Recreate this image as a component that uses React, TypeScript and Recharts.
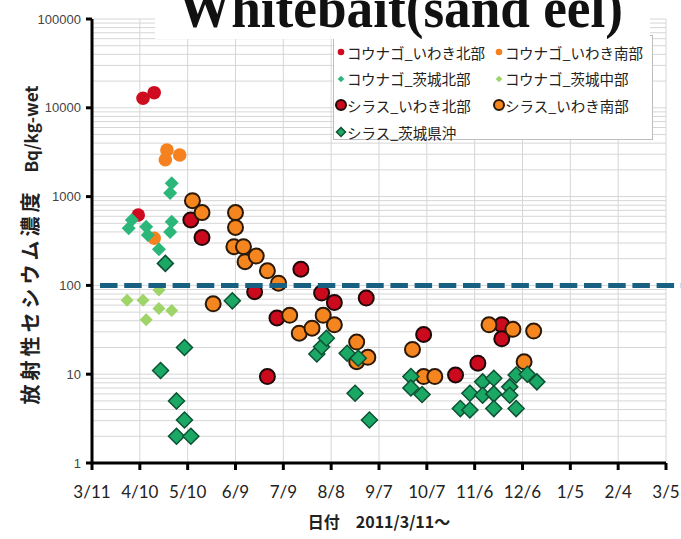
import React from "react";
import {
  ScatterChart,
  Scatter,
  XAxis,
  YAxis,
  CartesianGrid,
  ReferenceLine,
  Legend,
} from "recharts";

// x ticks: every 30 days from 2011/3/11
const xTickLabels = ["3/11", "4/10", "5/10", "6/9", "7/9", "8/8", "9/7", "10/7", "11/6", "12/6", "1/5", "2/4", "3/5"];
const yMajorTicks = [1, 10, 100, 1000, 10000, 100000];
const limitValue = 100;

// [date, Bq/kg-wet]
const kounagoIwakiNorth: [string, number][] = [["4/9", 620], ["4/12", 12800], ["4/19", 14800]];
const kounagoIwakiSouth: [string, number][] = [["4/19", 340], ["4/26", 2600], ["4/27", 3350], ["5/5", 2940]];
const kounagoIbarakiNorth: [string, number][] = [
  ["4/3", 440], ["4/5", 545], ["4/14", 458], ["4/15", 370], ["4/22", 255],
  ["4/29", 1100], ["4/29", 400], ["4/30", 1410], ["4/30", 520],
];
const kounagoIbarakiCentral: [string, number][] = [
  ["4/2", 68], ["4/12", 68], ["4/14", 41], ["4/22", 89], ["4/22", 55], ["4/30", 52],
];
const shirasuIwakiNorth: [string, number][] = [
  ["5/12", 545], ["5/19", 346], ["6/21", 85], ["6/29", 9.4], ["7/5", 43], ["7/20", 152],
  ["8/2", 82], ["8/10", 64], ["8/30", 72], ["10/5", 28], ["10/25", 9.8], ["11/8", 13.3],
  ["11/23", 36], ["11/23", 25],
];
const shirasuIwakiSouth: [string, number][] = [
  ["5/13", 900], ["5/19", 660], ["5/26", 62], ["6/8", 273], ["6/9", 660], ["6/9", 450],
  ["6/14", 273], ["6/15", 185], ["6/22", 214], ["6/29", 146], ["7/6", 106], ["7/13", 46],
  ["7/19", 29], ["7/27", 33], ["8/3", 46], ["8/10", 36], ["8/24", 23], ["8/24", 13.8],
  ["8/31", 15.5], ["9/28", 19], ["10/5", 9.4], ["10/12", 9.4], ["11/15", 36], ["11/30", 32],
  ["12/7", 13.8], ["12/13", 30.6],
];
const shirasuIbarakiOffshore: [string, number][] = [
  ["4/23", 11], ["4/26", 177], ["5/3", 5], ["5/3", 2], ["5/8", 20], ["5/8", 3.05], ["5/12", 2],
  ["6/7", 67], ["7/30", 16.9], ["8/2", 20.4], ["8/5", 25.4], ["8/18", 17.2], ["8/23", 6.1],
  ["8/25", 15.1], ["9/1", 3.05], ["9/27", 9.4], ["9/27", 7], ["10/4", 5.9], ["10/28", 4.1],
  ["11/3", 3.95], ["11/3", 6.1], ["11/11", 8.2], ["11/11", 5.8], ["11/18", 9], ["11/18", 6],
  ["11/18", 4.1], ["11/28", 7.2], ["11/28", 5.8], ["12/2", 9.8], ["12/2", 4.1], ["12/9", 10],
  ["12/15", 8.2],
];

const START = Date.UTC(2011, 2, 11);
const dayOf = (md: string) => {
  const [m, d] = md.split("/").map(Number);
  let t = (Date.UTC(2011, m - 1, d) - START) / 86400000;
  if (t < 0) t = (Date.UTC(2012, m - 1, d) - START) / 86400000;
  return t;
};
const toPoints = (rows: [string, number][]) => rows.map(([d, v]) => ({ x: dayOf(d), y: v }));

const xTicks = xTickLabels.map(dayOf);
const yTicks = yMajorTicks.flatMap((t) =>
  t === 100000 ? [t] : [1, 2, 3, 4, 5, 6, 7, 8, 9].map((k) => k * t)
);

type Style = {
  name: string;
  rows: [string, number][];
  kind: "circle" | "diamond";
  fill: string;
  stroke: string;
  strokeWidth: number;
  size: number;
  legendSize: number;
};

const series: Style[] = [
  { name: "コウナゴ_いわき北部", rows: kounagoIwakiNorth, kind: "circle", fill: "#CE0B1F", stroke: "none", strokeWidth: 0, size: 6.8, legendSize: 3.3 },
  { name: "コウナゴ_いわき南部", rows: kounagoIwakiSouth, kind: "circle", fill: "#F5821F", stroke: "none", strokeWidth: 0, size: 6.8, legendSize: 3.3 },
  { name: "コウナゴ_茨城北部", rows: kounagoIbarakiNorth, kind: "diamond", fill: "#2BB77A", stroke: "none", strokeWidth: 0, size: 7, legendSize: 3.3 },
  { name: "コウナゴ_茨城中部", rows: kounagoIbarakiCentral, kind: "diamond", fill: "#9ED468", stroke: "none", strokeWidth: 0, size: 6.5, legendSize: 3.3 },
  { name: "シラス_いわき北部", rows: shirasuIwakiNorth, kind: "circle", fill: "#CC0A1E", stroke: "#1f0808", strokeWidth: 2, size: 7.5, legendSize: 5 },
  { name: "シラス_いわき南部", rows: shirasuIwakiSouth, kind: "circle", fill: "#F5861F", stroke: "#2b1806", strokeWidth: 2, size: 7.5, legendSize: 5 },
  { name: "シラス_茨城県沖", rows: shirasuIbarakiOffshore, kind: "diamond", fill: "#1BA865", stroke: "#0C5133", strokeWidth: 1.5, size: 8, legendSize: 4.5 },
];

const Marker = ({ s, cx, cy, r }: { s: Style; cx: number; cy: number; r: number }) => {
  if (s.kind === "circle") {
    return <circle cx={cx} cy={cy} r={r} fill={s.fill} stroke={s.stroke} strokeWidth={s.strokeWidth} />;
  }
  const pts = `${cx},${cy - r} ${cx + r},${cy} ${cx},${cy + r} ${cx - r},${cy}`;
  return <polygon points={pts} fill={s.fill} stroke={s.stroke} strokeWidth={s.strokeWidth} />;
};

const XTick = (props: any) => {
  const { x, y, payload } = props;
  const label = xTickLabels[xTicks.indexOf(payload.value)] ?? "";
  return (
    <g>
      <line x1={x} y1={y} x2={x} y2={y + 7} stroke="#000" strokeWidth={3} />
      <text x={x} y={y + 35} textAnchor="middle" fontSize={17} fill="#222" fontFamily="Lato, 'Open Sans', sans-serif">
        {label}
      </text>
    </g>
  );
};

const YTick = (props: any) => {
  const { x, y, payload } = props;
  if (!yMajorTicks.includes(payload.value)) return <g />;
  return (
    <g>
      <line x1={x - 6} y1={y} x2={x} y2={y} stroke="#000" strokeWidth={3} />
      <text x={x - 11} y={y} dy="0.35em" textAnchor="end" fontSize={13} fill="#444" fontFamily="'Liberation Sans', Arial, sans-serif">
        {payload.value}
      </text>
    </g>
  );
};

const LegendBox = () => (
  <div
    style={{
      position: "relative",
      width: 320,
      height: 105,
      boxSizing: "border-box",
      border: "1px solid #bdbdbd",
      background: "#fff",
    }}
  >
    {series.map((s, i) => {
      const col = i % 2;
      const row = Math.floor(i / 2);
      return (
        <div
          key={s.name}
          style={{
            position: "absolute",
            left: col === 0 ? 0 : 158,
            top: 16 + row * 26.7 - 11,
            height: 22,
            display: "flex",
            alignItems: "center",
            whiteSpace: "nowrap",
          }}
        >
          <svg width={12} height={14} style={{ marginLeft: 1 }}>
            <Marker s={s} cx={6} cy={7} r={s.legendSize} />
          </svg>
          <span style={{ fontFamily: "'Noto Sans CJK JP', sans-serif", fontSize: 14.5, color: "#222" }}>{s.name}</span>
        </div>
      );
    })}
  </div>
);

const LimitLine = (p: any) => (
  <line x1={p.x1 + 8} y1={p.y1} x2={681} y2={p.y2} stroke="#176081" strokeWidth={5} strokeDasharray="17.5 6.7" />
);

export default function App() {
  return (
    <div style={{ position: "absolute", left: 0, top: 0, width: 681, height: 539, background: "#fff" }}>
      <ScatterChart width={681} height={539} margin={{ top: 19, right: 15, bottom: 0, left: 0 }}>
        <CartesianGrid stroke="#d6d6d6" />
        <XAxis
          type="number"
          dataKey="x"
          domain={[0, 360]}
          ticks={xTicks}
          interval={0}
          allowDataOverflow
          height={76}
          tickSize={0}
          tickMargin={0}
          tickLine={false}
          axisLine={{ stroke: "#000", strokeWidth: 3 }}
          tick={<XTick />}
          label={{
            content: () => (
              <text x={379} y={528} textAnchor="middle" fontSize={16} fontWeight={700} fill="#222" fontFamily="'Noto Sans CJK JP', sans-serif">
                日付　2011/3/11～
              </text>
            ),
          }}
        />
        <YAxis
          type="number"
          dataKey="y"
          scale="log"
          domain={[1, 100000]}
          ticks={yTicks}
          interval={0}
          allowDataOverflow
          width={92}
          tickSize={0}
          tickMargin={0}
          tickLine={false}
          axisLine={{ stroke: "#000", strokeWidth: 3 }}
          tick={<YTick />}
          label={{
            content: () => (
              <text
                x={38}
                y={245}
                transform="rotate(-90, 38, 245)"
                textAnchor="middle"
                fontWeight={700}
                fill="#222"
                fontFamily="'Noto Sans CJK JP', sans-serif"
              >
                <tspan fontSize={20} letterSpacing={4}>放射性セシウム濃度</tspan>
                <tspan fontSize={17} dx={16}>Bq/kg-wet</tspan>
              </text>
            ),
          }}
        />
        {series.map((s) => (
          <Scatter
            key={s.name}
            name={s.name}
            data={toPoints(s.rows)}
            fill={s.fill}
            isAnimationActive={false}
            shape={(p: any) => <Marker s={s} cx={p.cx} cy={p.cy} r={s.size} />}
          />
        ))}
        <ReferenceLine y={limitValue} shape={LimitLine} zIndex={1000} />
        <Legend
          layout="horizontal"
          verticalAlign="middle"
          align="center"
          wrapperStyle={{ left: 333, top: 35, width: 320, height: 105 }}
          content={() => <LegendBox />}
        />
      </ScatterChart>
      <div
        style={{
          position: "absolute",
          left: 155,
          top: 0,
          width: 495,
          height: 39,
          background: "#fff",
          overflow: "hidden",
        }}
      >
        <svg width={495} height={39}>
          <text
            x={23}
            y={27}
            fontSize={58}
            fontWeight={700}
            fill="#111"
            textLength={445}
            lengthAdjust="spacingAndGlyphs"
            fontFamily="'Liberation Serif', 'Times New Roman', serif"
          >
            Whitebait(sand eel)
          </text>
        </svg>
      </div>
    </div>
  );
}
